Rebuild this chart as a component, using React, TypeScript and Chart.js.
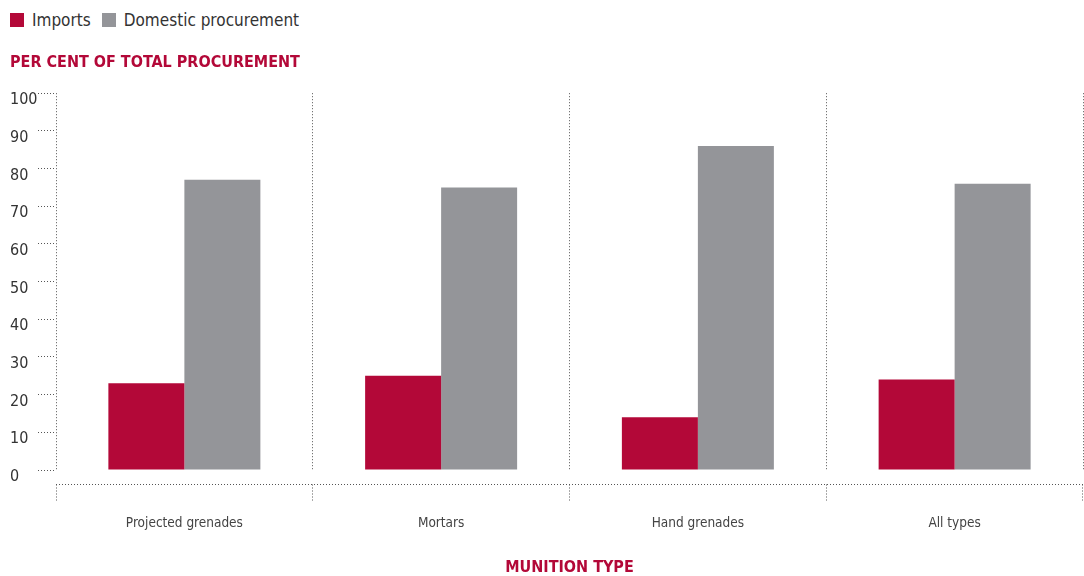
import React, { useEffect, useRef } from 'react';
import { Chart, registerables } from 'chart.js';

Chart.register(...registerables);

const categories = ['Projected grenades', 'Mortars', 'Hand grenades', 'All types'];
const seriesLabels = ['Imports', 'Domestic procurement'];
const importsValues = [23, 25, 14, 24];
const domesticValues = [77, 75, 86, 76];
const seriesColors = ['#b30838', '#949599'];
const yTitle = 'PER CENT OF TOTAL PROCUREMENT';
const xTitle = 'MUNITION TYPE';
const yMin = 0;
const yMax = 100;
const yStep = 10;

const FONT = '"DejaVu Sans Condensed", "Liberation Sans Narrow", sans-serif';
const ACCENT = '#b30838';
const DOT = '#555555';

const xAxisLine = {
  id: 'xAxisLine',
  afterDraw(chart: any) {
    const { ctx, chartArea, scales } = chart;
    const xs = scales.x;
    const y0 = Math.floor(chartArea.bottom + 14) + 0.5;
    ctx.save();
    ctx.strokeStyle = DOT;
    ctx.lineWidth = 1;
    ctx.setLineDash([1, 2]);
    ctx.beginPath();
    ctx.moveTo(chartArea.left, y0);
    ctx.lineTo(chartArea.right, y0);
    ctx.stroke();
    ctx.beginPath();
    for (let i = 0; i <= categories.length; i++) {
      const px = Math.min(Math.floor(xs.getPixelForValue(i - 0.5)), Math.floor(chartArea.right) - 1) + 0.5;
      ctx.moveTo(px, y0);
      ctx.lineTo(px, y0 + 18);
    }
    ctx.stroke();
    ctx.restore();
  },
};

export default function App() {
  const ref = useRef<HTMLCanvasElement>(null);

  useEffect(() => {
    if (!ref.current) return;
    const chart = new Chart(ref.current, {
      type: 'bar',
      data: {
        labels: categories,
        datasets: [
          { label: seriesLabels[0], data: importsValues, backgroundColor: seriesColors[0], borderWidth: 0 },
          { label: seriesLabels[1], data: domesticValues, backgroundColor: seriesColors[1], borderWidth: 0 },
        ],
      },
      options: {
        responsive: false,
        animation: false,
        layout: { padding: { left: 10, right: 1, top: 0, bottom: 0 } },
        datasets: { bar: { categoryPercentage: 0.592, barPercentage: 1 } },
        plugins: {
          legend: { display: false },
          tooltip: { enabled: false },
          title: {
            display: true,
            text: yTitle,
            align: 'start',
            color: ACCENT,
            font: { family: FONT, size: 16, weight: 'bold', lineHeight: 1.2 },
            padding: { top: 13, bottom: 21 },
          },
        },
        scales: {
          x: {
            type: 'category',
            offset: true,
            grid: { display: true, offset: true, drawOnChartArea: true, drawTicks: false, color: DOT, lineWidth: 1 },
            border: { display: false, dash: [1, 2] },
            ticks: { color: '#444', padding: 45, font: { family: FONT, size: 13.5, lineHeight: 1.2 } },
            title: {
              display: true,
              text: xTitle,
              color: ACCENT,
              font: { family: FONT, size: 16, weight: 'bold', lineHeight: 1 },
              padding: { top: 0, bottom: 0 },
            },
            afterFit: (s: any) => { s.height = 106; },
          },
          y: {
            min: yMin,
            max: yMax,
            ticks: {
              stepSize: yStep,
              crossAlign: 'far',
              labelOffset: 7,
              color: '#333',
              font: { family: FONT, size: 16 },
            },
            grid: {
              display: true,
              drawOnChartArea: false,
              drawTicks: true,
              tickLength: 18,
              tickColor: DOT,
              tickWidth: 1,
              tickBorderDash: [1, 2],
            },
            border: { display: false },
            afterFit: (s: any) => { s.width = 46; },
          },
        },
      },
      plugins: [xAxisLine],
    });
    return () => chart.destroy();
  }, []);

  return (
    <div style={{ position: 'absolute', left: 0, top: 0, width: 1084, height: 576, background: '#fff' }}>
      <div style={{ height: 40, display: 'flex', alignItems: 'center', paddingLeft: 10, fontFamily: FONT, fontSize: 17, color: '#333', boxSizing: 'border-box' }}>
        {seriesLabels.map((l, i) => (
          <div key={l} style={{ display: 'flex', alignItems: 'center', marginRight: 11 }}>
            <span style={{ display: 'inline-block', width: 14, height: 14, background: seriesColors[i], marginRight: 8 }} />
            <span>{l}</span>
          </div>
        ))}
      </div>
      <canvas ref={ref} width={1084} height={536} style={{ display: 'block' }} />
    </div>
  );
}
